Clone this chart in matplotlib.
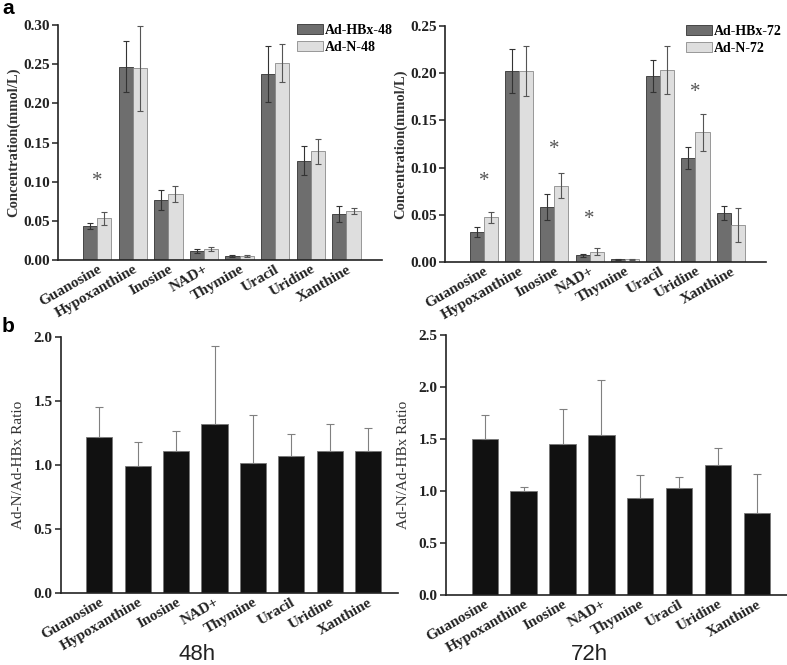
import numpy as np
import matplotlib
matplotlib.use("Agg")
import matplotlib.pyplot as plt

metabolitos = ['Guanosine', 'Hypoxanthine', 'Inosine', 'NAD+', 'Thymine',
               'Uracil', 'Uridine', 'Xanthine']

# concentracoes 48h (mmol/L)
hbx_48 = [0.0436, 0.247, 0.0767, 0.0114, 0.005, 0.2377, 0.127, 0.0585]
hbx_48_err = [0.004, 0.032, 0.0123, 0.003, 0.001, 0.036, 0.0187, 0.010]
n_48 = [0.053, 0.2445, 0.084, 0.014, 0.005, 0.2513, 0.1386, 0.0627]
n_48_err = [0.0085, 0.054, 0.0104, 0.003, 0.001, 0.024, 0.0155, 0.004]

# concentracoes 72h (mmol/L)
hbx_72 = [0.0314, 0.2023, 0.058, 0.007, 0.003, 0.1974, 0.1098, 0.0519]
hbx_72_err = [0.0053, 0.023, 0.014, 0.0015, 0.0005, 0.0168, 0.0117, 0.007]
n_72 = [0.0473, 0.2027, 0.081, 0.011, 0.003, 0.2034, 0.1373, 0.0392]
n_72_err = [0.0058, 0.0265, 0.013, 0.004, 0.0005, 0.0256, 0.020, 0.0177]

# razao Ad-N / Ad-HBx
razao_48 = [1.216, 0.99, 1.109, 1.318, 1.013, 1.07, 1.107, 1.107]
razao_48_err = [0.237, 0.192, 0.159, 0.612, 0.375, 0.172, 0.211, 0.182]
razao_72 = [1.503, 0.997, 1.455, 1.535, 0.929, 1.026, 1.25, 0.788]
razao_72_err = [0.225, 0.045, 0.33, 0.532, 0.222, 0.112, 0.16, 0.372]

# asteriscos (indice, altura)
estrelas_48 = [(0, 0.1005)]
estrelas_72 = [(0, 0.085), (2, 0.119), (3, 0.045), (6, 0.180)]

serif = 'Liberation Serif'
x = np.arange(len(metabolitos))


def estilo_eixo(ax):
    for lado in ['top', 'right']:
        ax.spines[lado].set_visible(False)
    for lado in ['left', 'bottom']:
        ax.spines[lado].set_linewidth(1.2)
        ax.spines[lado].set_color('#222222')
    ax.tick_params(axis='y', direction='out', length=4, width=1.1, colors='#222222', pad=2)
    ax.tick_params(axis='x', length=0, pad=2)
    ax.set_xticks(x)
    ax.set_xticklabels(metabolitos, rotation=30, ha='right', rotation_mode='anchor',
                       family=serif, fontweight='bold', fontsize=11, color='#222222')
    for t in ax.get_yticklabels():
        t.set_family(serif)
        t.set_fontweight('bold')
        t.set_fontsize(11)
        t.set_color('#222222')


def painel_conc(ax, hbx, hbx_err, n, n_err, estrelas, rotulos, ymax, passo, leg_pos):
    w = 0.4
    ax.bar(x - w / 2, hbx, w, color='#6e6e6e', edgecolor='#333333', linewidth=0.6, label=rotulos[0])
    ax.bar(x + w / 2, n, w, color='#dedede', edgecolor='#8a8a8a', linewidth=0.6, label=rotulos[1])
    ax.errorbar(x - w / 2, hbx, yerr=hbx_err, fmt='none', ecolor='#333333', elinewidth=0.8, capsize=2.2, capthick=0.8)
    ax.errorbar(x + w / 2, n, yerr=n_err, fmt='none', ecolor='#555555', elinewidth=0.8, capsize=2.2, capthick=0.8)
    for i, h in estrelas:
        ax.text(i, h, '*', ha='center', va='center', fontsize=15, family=serif, color='#555555')
    ax.set_xlim(-1.1, 8.0)
    ax.set_ylim(0, ymax)
    ax.set_yticks(np.arange(0, ymax + 1e-9, passo))
    ax.yaxis.set_major_formatter(matplotlib.ticker.FormatStrFormatter('%.2f'))
    ax.set_ylabel('Concentration(mmol/L)', family=serif, fontweight='bold', fontsize=10.5,
                  color='#333333', labelpad=2)
    estilo_eixo(ax)
    ax.legend(loc='upper left', bbox_to_anchor=leg_pos, bbox_transform=fig.transFigure,
              frameon=False, borderpad=0, handlelength=1.85, handleheight=0.7,
              handletextpad=0.15, labelspacing=0.3,
              prop={'family': serif, 'weight': 'bold', 'size': 10})


def painel_razao(ax, razao, razao_err, ymax, tempo, tempo_x):
    ax.bar(x, razao, 0.68, color='#111111', edgecolor='#777777', linewidth=0.6)
    ax.errorbar(x, razao, yerr=[np.zeros(len(razao)), razao_err], fmt='none',
                ecolor='#808080', elinewidth=0.8, capsize=2.8, capthick=0.8)
    ax.set_xlim(-1.0, 7.78)
    ax.set_ylim(0, ymax)
    ax.set_yticks(np.arange(0, ymax + 1e-9, 0.5))
    ax.yaxis.set_major_formatter(matplotlib.ticker.FormatStrFormatter('%.1f'))
    ax.set_ylabel('Ad-N/Ad-HBx Ratio', family=serif, fontsize=11, color='#333333', labelpad=6)
    estilo_eixo(ax)
    fig.text(tempo_x, 1 - 655 / 665, tempo, ha='center', va='center',
             family='Liberation Sans', fontsize=16, color='#222222')


fig = plt.figure(figsize=(7.87, 6.65), dpi=100)

ax1 = fig.add_axes([58 / 787, 1 - 260 / 665, 324 / 787, 235 / 665])
painel_conc(ax1, hbx_48, hbx_48_err, n_48, n_48_err, estrelas_48,
            ['Ad-HBx-48', 'Ad-N-48'], 0.30, 0.05, (290 / 787, 1 - 17 / 665))

ax2 = fig.add_axes([445 / 787, 1 - 262 / 665, 321 / 787, 236 / 665])
painel_conc(ax2, hbx_72, hbx_72_err, n_72, n_72_err, estrelas_72,
            ['Ad-HBx-72', 'Ad-N-72'], 0.25, 0.05, (679 / 787, 1 - 18 / 665))

ax3 = fig.add_axes([61 / 787, 1 - 593 / 665, 337 / 787, 256 / 665])
painel_razao(ax3, razao_48, razao_48_err, 2.0, '48h', 197 / 787)

ax4 = fig.add_axes([446 / 787, 1 - 595 / 665, 341 / 787, 260 / 665])
painel_razao(ax4, razao_72, razao_72_err, 2.5, '72h', 589 / 787)

fig.text(2 / 787, 1 - 8 / 665, 'a', ha='left', va='center', family='Liberation Sans',
         fontweight='bold', fontsize=15)
fig.text(2 / 787, 1 - 327 / 665, 'b', ha='left', va='center', family='Liberation Sans',
         fontweight='bold', fontsize=15)

fig.savefig('out.png', dpi=100)
